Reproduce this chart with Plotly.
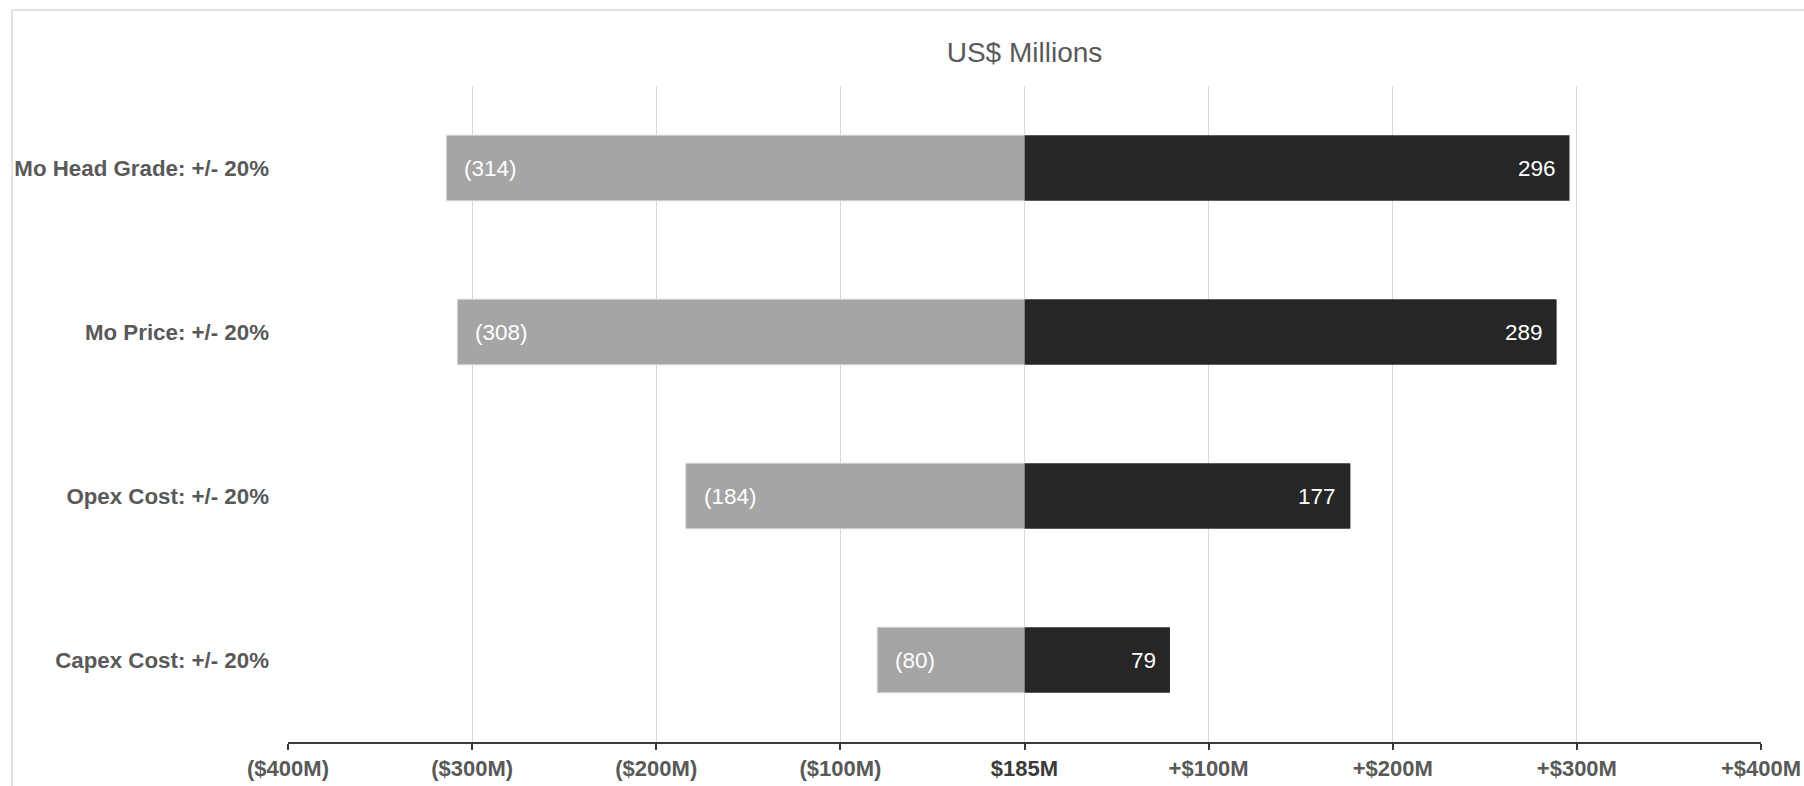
import plotly.graph_objects as go

# Sensitivity of NPV (base case US$185M) to +/- 20% changes in key drivers
drivers = ["Mo Head Grade: +/- 20%", "Mo Price: +/- 20%", "Opex Cost: +/- 20%", "Capex Cost: +/- 20%"]
downside = [-314, -308, -184, -80]   # change vs. base, US$ M
upside = [296, 289, 177, 79]         # change vs. base, US$ M

tick_values = [-400, -300, -200, -100, 0, 100, 200, 300, 400]
tick_labels = ["($400M)", "($300M)", "($200M)", "($100M)",
               "<span style='color:#3a3a3a'>$185M</span>",
               "+$100M", "+$200M", "+$300M", "+$400M"]

FONT = "Liberation Sans, Arial, Helvetica, sans-serif"
LABEL_GRAY = "#595959"

fig = go.Figure()
fig.add_trace(go.Bar(
    y=drivers, x=downside, orientation="h", width=0.4,
    marker=dict(color="#A5A5A5", line=dict(color="#D9D9D9", width=1)),
    hoverinfo="skip", showlegend=False,
))
fig.add_trace(go.Bar(
    y=drivers, x=upside, orientation="h", width=0.4,
    marker=dict(color="#262626", line=dict(width=0)),
    hoverinfo="skip", showlegend=False,
))

# value labels inside the bar ends
for d, lo, hi in zip(drivers, downside, upside):
    fig.add_annotation(x=lo, y=d, text=f"({abs(lo)})", showarrow=False,
                       xanchor="left", xshift=16, font=dict(family=FONT, size=22.5, color="white"))
    fig.add_annotation(x=hi, y=d, text=f"{hi}", showarrow=False,
                       xanchor="right", xshift=-12, font=dict(family=FONT, size=22.5, color="white"))

# outer frame
fig.add_shape(type="line", xref="paper", yref="paper",
              x0=(12 - 288) / 1473, x1=(12 - 288) / 1473,
              y0=1 + (86 - 10) / 656.5, y1=-0.2,
              line=dict(color="#D9D9D9", width=1.5))
fig.add_shape(type="line", xref="paper", yref="paper",
              x0=(12 - 288) / 1473, x1=1.2,
              y0=1 + (86 - 10) / 656.5, y1=1 + (86 - 10) / 656.5,
              line=dict(color="#D9D9D9", width=1.5))

fig.update_layout(
    width=1804, height=786,
    margin=dict(l=288, r=43, t=86, b=44, autoexpand=False),
    paper_bgcolor="white", plot_bgcolor="white",
    barmode="relative", bargap=0.6,
    font=dict(family=FONT, color=LABEL_GRAY),
    title=dict(text="US$ Millions", x=0.5, xref="paper", xanchor="center",
               y=1 - 52 / 786, yanchor="middle",
               font=dict(family=FONT, size=28, color=LABEL_GRAY)),
    xaxis=dict(
        range=[-400, 400], tickmode="array", tickvals=tick_values, ticktext=tick_labels,
        showgrid=True, gridcolor="#D9D9D9", gridwidth=1, zeroline=False,
        showline=True, linecolor="#3a3a3a", linewidth=1.5,
        ticks="outside", ticklen=6, tickwidth=1.5, tickcolor="#3a3a3a",
        tickfont=dict(family=FONT, size=22, color=LABEL_GRAY, weight="bold"),
        automargin=False, fixedrange=True,
    ),
    yaxis=dict(
        categoryorder="array", categoryarray=drivers, range=[3.5, -0.5],
        showgrid=False, zeroline=False, showline=False, ticks="",
        ticklabelstandoff=18,
        tickfont=dict(family=FONT, size=22.3, color=LABEL_GRAY, weight="bold"),
        automargin=False, fixedrange=True,
    ),
)

fig.write_html("out.html")
